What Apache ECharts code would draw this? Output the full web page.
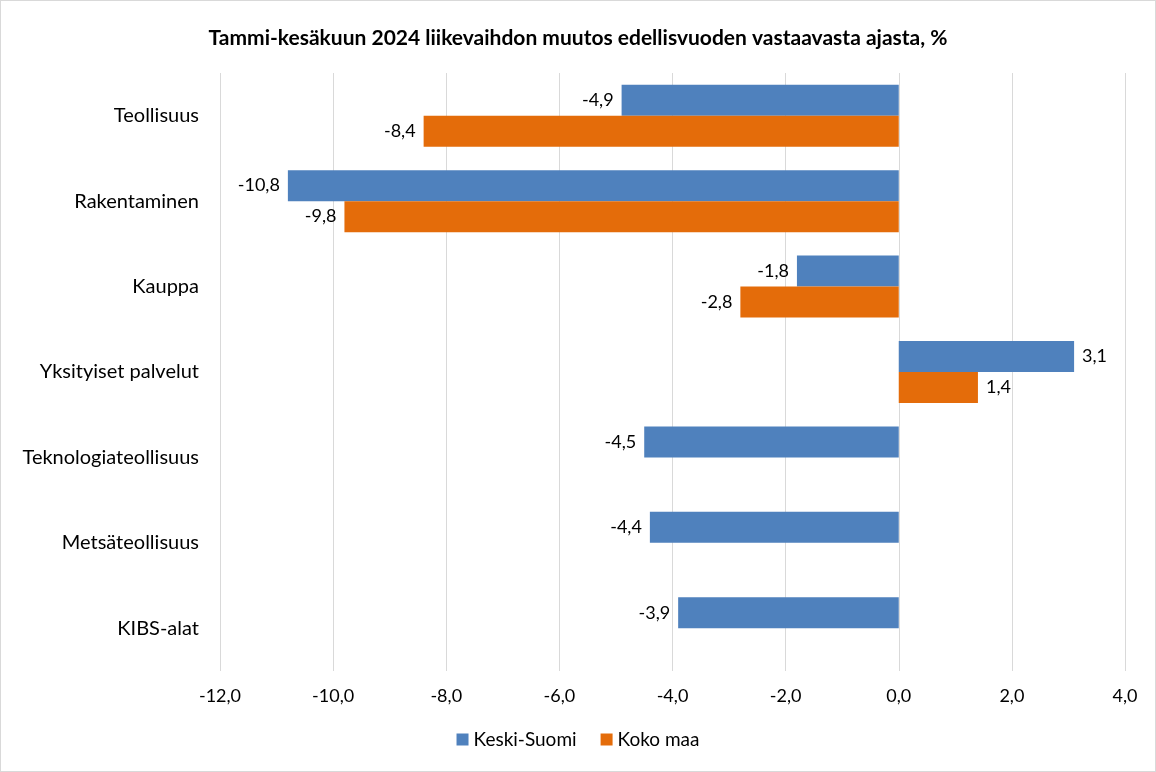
<!DOCTYPE html>
<html>
<head>
<meta charset="utf-8">
<title>Liikevaihdon muutos</title>
<script src="https://cdn.jsdelivr.net/npm/echarts@6.0.0/dist/echarts.min.js"></script>
<style>
  html, body { margin: 0; padding: 0; background: #fff; }
  #chart { width: 1156px; height: 772px; box-sizing: border-box; border: 1px solid #d9d9d9; }
</style>
</head>
<body>
<div id="chart"></div>
<script>
  var categories = ['Teollisuus', 'Rakentaminen', 'Kauppa', 'Yksityiset palvelut', 'Teknologiateollisuus', 'Metsäteollisuus', 'KIBS-alat'];
  var keskiSuomi = [-4.9, -10.8, -1.8, 3.1, -4.5, -4.4, -3.9];
  var kokoMaa = [-8.4, -9.8, -2.8, 1.4, null, null, null];
  var seriesNames = ['Keski-Suomi', 'Koko maa'];
  var colors = ['#4F81BD', '#E46C0A'];

  var FONT = 'Lato, "Open Sans", sans-serif';

  function fmt(v) {
    return v.toFixed(1).replace('.', ',');
  }

  function withLabels(values) {
    return values.map(function (v) {
      if (v === null) return null;
      return { value: v, label: { position: v < 0 ? 'left' : 'right' } };
    });
  }

  function barSeries(name, values, color) {
    return {
      name: name,
      type: 'bar',
      data: withLabels(values),
      barWidth: 31,
      barGap: '0%',
      itemStyle: { color: color },
      label: {
        show: true,
        distance: 8,
        color: '#000',
        fontFamily: FONT,
        fontSize: 18,
        formatter: function (p) { return fmt(p.value); }
      }
    };
  }

  var chart = echarts.init(document.getElementById('chart'));
  chart.setOption({
    animation: false,
    title: {
      text: 'Tammi-kesäkuun 2024 liikevaihdon muutos edellisvuoden vastaavasta ajasta, %',
      left: 'center',
      top: 22,
      textStyle: { fontFamily: FONT, fontSize: 21, fontWeight: 'bold', color: '#000' }
    },
    legend: {
      bottom: 17,
      left: 'center',
      itemWidth: 12,
      itemHeight: 12,
      itemGap: 24,
      icon: 'rect',
      data: seriesNames,
      textStyle: { fontFamily: FONT, fontSize: 19, color: '#000' }
    },
    grid: { left: 219, right: 30, top: 72, bottom: 100, containLabel: false },
    xAxis: {
      type: 'value',
      min: -12,
      max: 4,
      interval: 2,
      axisLine: { show: false },
      axisTick: { show: false },
      splitLine: { lineStyle: { color: '#d9d9d9', width: 1 } },
      axisLabel: {
        margin: 16,
        color: '#000',
        fontFamily: FONT,
        fontSize: 18,
        formatter: fmt
      }
    },
    yAxis: {
      type: 'category',
      data: categories,
      inverse: true,
      axisLine: { show: false },
      axisTick: { show: false },
      axisLabel: { margin: 21, color: '#000', fontFamily: FONT, fontSize: 20 }
    },
    series: [
      barSeries(seriesNames[0], keskiSuomi, colors[0]),
      barSeries(seriesNames[1], kokoMaa, colors[1])
    ]
  });
</script>
</body>
</html>
